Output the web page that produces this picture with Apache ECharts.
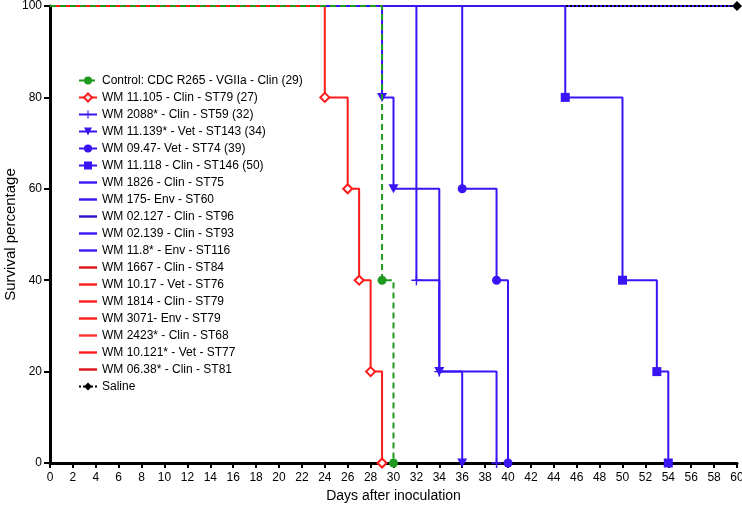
<!DOCTYPE html>
<html><head><meta charset="utf-8">
<script src="https://cdn.jsdelivr.net/npm/echarts@6/dist/echarts.min.js"></script>
<style>html,body{margin:0;padding:0;background:#fff}#c{width:742px;height:510px}</style>
</head><body><div id="c"></div>
<script>
// Series names (legend order)
const names = [
  "Control: CDC R265 - VGIIa - Clin (29)",
  "WM 11.105 - Clin - ST79 (27)",
  "WM 2088* - Clin - ST59 (32)",
  "WM 11.139* - Vet - ST143 (34)",
  "WM 09.47- Vet - ST74 (39)",
  "WM 11.118 - Clin - ST146 (50)",
  "WM 1826 - Clin - ST75",
  "WM 175- Env - ST60",
  "WM 02.127 - Clin - ST96",
  "WM 02.139 - Clin - ST93",
  "WM 11.8* - Env - ST116",
  "WM 1667 - Clin - ST84",
  "WM 10.17 - Vet - ST76",
  "WM 1814 - Clin - ST79",
  "WM 3071- Env - ST79",
  "WM 2423* - Clin - ST68",
  "WM 10.121* - Vet - ST77",
  "WM 06.38* - Clin - ST81",
  "Saline"
];
// Kaplan-Meier step points: days and survival (%)
const controlDays = [0, 29, 30];        const controlSurv = [100, 40, 0];
const wm11105Days = [0, 24, 26, 27, 28, 29]; const wm11105Surv = [100, 80, 60, 40, 20, 0];
const wm2088Days  = [0, 32, 34, 39];    const wm2088Surv  = [100, 40, 20, 0];
const wm11139Days = [0, 29, 30, 34, 36]; const wm11139Surv = [100, 80, 60, 20, 0];
const wm0947Days  = [0, 36, 39, 40];    const wm0947Surv  = [100, 60, 40, 0];
const wm11118Days = [0, 45, 50, 53, 54]; const wm11118Surv = [100, 80, 40, 20, 0];
const survivorDays = [0, 60];           const survivorSurv = [100, 100];
const salineDays  = [0, 60];            const salineSurv  = [100, 100];

const xTicks = {min: 0, max: 60, interval: 2};
const yTicks = {min: 0, max: 100, interval: 20};

const GREEN = '#1f9a1f', RED = '#ff1a1a', BLUE = '#3a14f5', DBLUE = '#2a12c8', DRED = '#e0101a';
const PLUS = 'path://M4.3,0H5.7V4.3H10V5.7H5.7V10H4.3V5.7H0V4.3H4.3Z';
const TRI = 'path://M0,0L10,0L5,9Z';
const LINE_ICON = 'path://M0,3.8H18V6.2H0Z';

function pts(d, s, lastSymbolOnly) {
  return d.map((x, i) => {
    const item = {value: [x, s[i]]};
    if (i === 0 || (lastSymbolOnly && i < d.length - 1)) item.symbol = 'none';
    return item;
  });
}
function km(name, d, s, color, opts) {
  opts = opts || {};
  return {
    name, type: 'line', step: 'end', data: pts(d, s, opts.lastOnly),
    symbol: opts.symbol || 'none', symbolSize: opts.size || 8,
    lineStyle: {color, width: 2, type: opts.dash || 'solid'},
    itemStyle: opts.itemStyle || {color},
    color, z: opts.z || 2, animation: false,
    emphasis: {disabled: true}
  };
}

const series = [];
const survBlue = [BLUE, BLUE, DBLUE, BLUE, BLUE];
const survRed = [DRED, RED, RED, RED, '#ff3030', RED, DRED];
// unmarked survivors (drawn underneath)
for (let i = 0; i < 7; i++) series.push(km(names[11 + i], survivorDays, survivorSurv, survRed[i], {z: 1}));
for (let i = 0; i < 5; i++) series.push(km(names[6 + i], survivorDays, survivorSurv, survBlue[i], {z: 2}));
series.push(km(names[18], salineDays, salineSurv, '#000000', {symbol: 'diamond', size: 10, dash: [2, 2], z: 2, lastOnly: true}));
series.push(km(names[5], wm11118Days, wm11118Surv, BLUE, {symbol: 'rect', size: 9, z: 3}));
series.push(km(names[4], wm0947Days, wm0947Surv, BLUE, {symbol: 'circle', size: 9, z: 3}));
series.push(km(names[3], wm11139Days, wm11139Surv, BLUE, {symbol: TRI, size: [10, 9], z: 3}));
series.push(km(names[2], wm2088Days, wm2088Surv, BLUE, {symbol: PLUS, size: 10, z: 3}));
series.push(km(names[1], wm11105Days, wm11105Surv, RED, {symbol: 'diamond', size: 9, z: 4,
  itemStyle: {color: '#ffffff', borderColor: RED, borderWidth: 2}}));
series.push(km(names[0], controlDays, controlSurv, GREEN, {symbol: 'circle', size: 9, dash: [6, 4], z: 5}));

const font = '"Liberation Sans", Arial, sans-serif';
const legendData = names.map((n, i) => (i >= 6 && i <= 17) ? {name: n, icon: LINE_ICON} : {name: n});
const option = {
  backgroundColor: '#fff',
  animation: false,
  grid: {left: 50, right: 5, top: 6, bottom: 47, containLabel: false, outerBoundsMode: 'none'},
  legend: {
    data: legendData,
    orient: 'vertical', left: 73, top: 69,
    itemWidth: 18, itemHeight: 10, itemGap: 4,
    textStyle: {fontFamily: font, fontSize: 12, color: '#000', lineHeight: 13},
    selectedMode: false
  },
  xAxis: {
    type: 'value', min: xTicks.min, max: xTicks.max, interval: xTicks.interval,
    name: 'Days after inoculation', nameLocation: 'middle', nameGap: 22,
    nameTextStyle: {fontFamily: font, fontSize: 14, color: '#000'},
    axisLine: {onZero: false, lineStyle: {color: '#000', width: 3}},
    axisTick: {show: true, inside: false, length: 5, lineStyle: {color: '#000', width: 2}},
    axisLabel: {fontFamily: '"Liberation Sans Narrow", "Liberation Sans", Arial', fontSize: 12, color: '#000', margin: 9},
    splitLine: {show: false}
  },
  yAxis: {
    type: 'value', min: yTicks.min, max: yTicks.max, interval: yTicks.interval,
    name: 'Survival percentage', nameLocation: 'middle', nameGap: 32, nameMoveOverlap: false,
    nameTextStyle: {fontFamily: font, fontSize: 15, color: '#000'},
    axisLine: {show: true, onZero: false, lineStyle: {color: '#000', width: 3}},
    axisTick: {show: true, inside: false, length: 6, lineStyle: {color: '#000', width: 2}},
    axisLabel: {fontFamily: font, fontSize: 12, color: '#000', margin: 8},
    splitLine: {show: false}
  },
  series
};
const chart = echarts.init(document.getElementById('c'), null, {renderer: 'canvas'});
chart.setOption(option);
</script></body></html>
